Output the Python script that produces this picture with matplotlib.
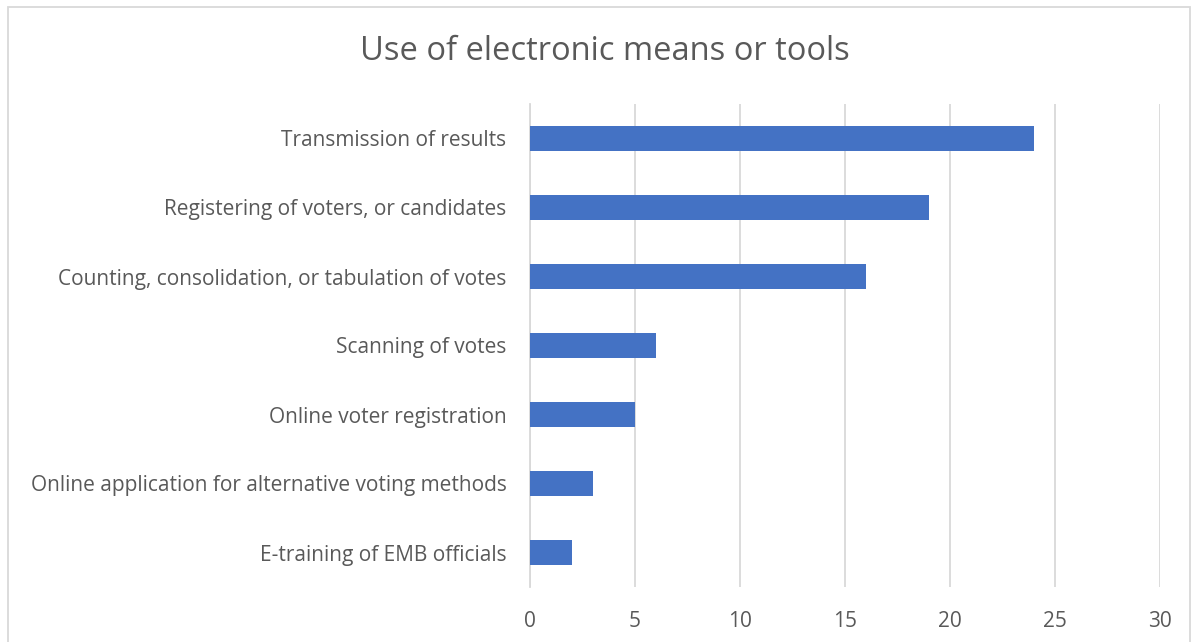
import matplotlib
matplotlib.use("Agg")
import matplotlib.pyplot as plt
from matplotlib.patches import Rectangle

plt.rcParams['font.family'] = ['Open Sans', 'DejaVu Sans']

# categories listed bottom to top
categories = [
    'E-training of EMB officials',
    'Online application for alternative voting methods',
    'Online voter registration',
    'Scanning of votes',
    'Counting, consolidation, or tabulation of votes',
    'Registering of voters, or candidates',
    'Transmission of results',
]
counts = [2, 3, 5, 6, 16, 19, 24]
xticks = [0, 5, 10, 15, 20, 25, 30]

text_col = '#595959'
grid_col = '#D9D9D9'

fig = plt.figure(figsize=(11.98, 6.42), dpi=100)
ax = fig.add_axes([530/1198, 1 - 587/642, 630/1198, 483/642])

ax.barh(range(len(categories)), counts, height=0.35, color='#4472C4', zorder=3)
ax.set_ylim(-0.5, len(categories) - 0.5)
ax.set_xlim(0, 30)
ax.set_xticks(xticks)
ax.set_yticks(range(len(categories)))
ax.set_yticklabels(categories)
ax.grid(axis='x', color=grid_col, linewidth=1.3, zorder=0)
for s in ['top', 'right', 'bottom']:
    ax.spines[s].set_visible(False)
ax.spines['left'].set_color(grid_col)
ax.spines['left'].set_linewidth(1.3)
ax.tick_params(axis='both', length=0, colors=text_col, labelsize=15)
ax.tick_params(axis='x', pad=17)
ax.tick_params(axis='y', pad=17)

fig.text(0.505, 1 - 52/642, 'Use of electronic means or tools', ha='center', va='center',
         fontsize=23.5, color=text_col)

# chart border
fig.patches.append(Rectangle((8/1198, -0.1), (1190 - 8)/1198, 1.1 - 7/642,
                             transform=fig.transFigure, fill=False,
                             edgecolor=grid_col, linewidth=1.3))

fig.savefig('out.png', dpi=100)
